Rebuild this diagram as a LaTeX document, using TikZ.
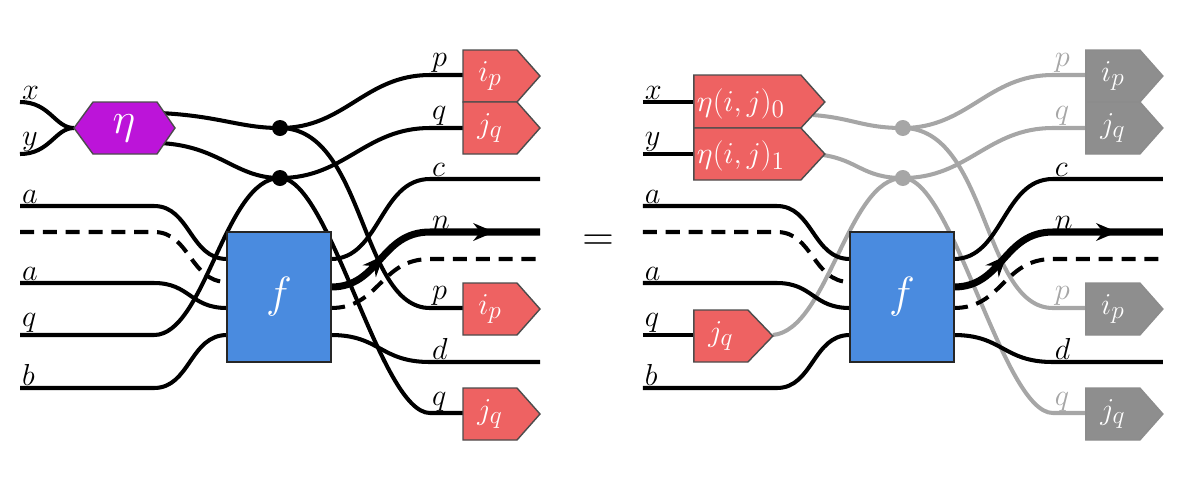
\documentclass[tikz,border=0pt]{standalone}
\usetikzlibrary{decorations.markings,arrows.meta}
\definecolor{redb}{HTML}{EE6262}
\definecolor{purp}{HTML}{BC14D9}
\definecolor{blueb}{HTML}{4A8BDF}
\definecolor{grayw}{HTML}{A6A6A6}
\definecolor{grayb}{HTML}{8E8E8E}
\tikzset{
 w/.style={line width=2.3pt,line cap=butt},
 dsh/.style={dash pattern=on 8pt off 5pt},
 lab/.style={anchor=south west,inner sep=1pt,font=\fontsize{17}{20}\selectfont},
 boxtext/.style={text=white,font=\fontsize{19}{22}\selectfont},
 redbox/.style={fill=redb,draw=black!70,line width=0.8pt},
 graybox/.style={fill=grayb,draw=black!45,line width=0.8pt},
 fbox/.style={fill=blueb,draw=black!85,line width=1.2pt,minimum width=2.08cm,minimum height=2.6cm,text=white,font=\fontsize{30}{34}\selectfont},
 dot/.style={circle,inner sep=0pt,minimum size=0.32cm},
 nwire/.style={line width=4pt,postaction={decorate},decoration={markings,
   mark=at position 0.28 with {\arrow{Stealth[length=12pt,width=10pt]}},
   mark=at position 0.8 with {\arrow{Stealth[length=12pt,width=10pt]}}}}
}
% #1 xl, #2 shoulder, #3 tip, #4 ytop, #5 ybot, #6 style, #7 text
\newcommand\tagbox[7]{%
 \path[#6] (#1,#4) -- (#2,#4) -- (#3,{(#4+#5)/2}) -- (#2,#5) -- (#1,#5) -- cycle;
 \node[boxtext] at ({(#1+#2)/2},{(#4+#5)/2}) {#7};}
\newcommand\shared{%
 \draw[w] (20,206) -- (154,206) .. controls (190,206) and (190,259) .. (227,259);
 \draw[w,dsh] (20,232) -- (154,232) .. controls (190,232) and (190,282) .. (227,282);
 \draw[w] (20,283) -- (154,283) .. controls (190,283) and (190,308) .. (227,308);
 \draw[w] (20,388) -- (154,388) .. controls (190,388) and (190,335) .. (227,335);
 \draw[w] (331,259) .. controls (380,259) and (380,179) .. (430,179) -- (540,179);
 \draw[w,dsh] (331,308) .. controls (380,308) and (380,259) .. (430,259) -- (540,259);
 \draw[w] (331,335) .. controls (380,335) and (380,362) .. (430,362) -- (540,362);
 \draw[nwire] (331,287) .. controls (380,287) and (380,232) .. (430,232) -- (540,232);
 \node[fbox] (f) at (279,297) {$f$};
 \node[lab] at (20,206) {$a$};
 \node[lab] at (20,283) {$a$};
 \node[lab] at (20,335) {$q$};
 \node[lab] at (20,388) {$b$};
 \node[lab] at (20,102) {$x$};
 \node[lab] at (20,154) {$y$};
 \node[lab] at (430,179) {$c$};
 \node[lab] at (430,232) {$n$};
 \node[lab] at (430,362) {$d$};
}
% #1 wire colour, #2 box style, #3 label colour
\newcommand\outs[3]{%
 \draw[w,#1] (280,128) .. controls (345,128) and (365,75) .. (430,75) -- (463,75);
 \draw[w,#1] (280,178) .. controls (345,178) and (365,128) .. (430,128) -- (463,128);
 \draw[w,#1] (280,128) .. controls (365,128) and (360,308) .. (430,308) -- (463,308);
 \draw[w,#1] (280,178) .. controls (330,178) and (380,413) .. (430,413) -- (463,413);
 \node[dot,fill=#1] (d1) at (280,128) {};
 \node[dot,fill=#1] (d2) at (280,178) {};
 \tagbox{463}{517}{540}{50}{102}{#2}{$i_p$}
 \tagbox{463}{517}{540}{102}{154}{#2}{$j_q$}
 \tagbox{463}{517}{540}{283}{335}{#2}{$i_p$}
 \tagbox{463}{517}{540}{388}{440}{#2}{$j_q$}
 \node[lab,text=#3] at (430,75) {$p$};
 \node[lab,text=#3] at (430,128) {$q$};
 \node[lab,text=#3] at (430,308) {$p$};
 \node[lab,text=#3] at (430,413) {$q$};
}
\begin{document}
\begin{tikzpicture}[x=0.02cm,y=-0.02cm]
\useasboundingbox (0,0) rectangle (1200,488);
% left panel
\begin{scope}
 \outs{black}{redbox}{black}
 \draw[w] (20,102) .. controls (50,102) and (55,128) .. (74,128);
 \draw[w] (20,154) .. controls (50,154) and (55,128) .. (74,128);
 \draw[w] (160,113) .. controls (220,116) and (240,128) .. (280,128);
 \draw[w] (160,143) .. controls (220,146) and (235,178) .. (280,178);
 \draw[w] (20,335) -- (154,335) .. controls (205,335) and (225,178) .. (280,178);
 \path[fill=purp,draw=black!70,line width=0.8pt] (74,128) -- (93,102) -- (157,102) -- (175,128) -- (157,154) -- (93,154) -- cycle;
 \node[text=white,font=\fontsize{24}{28}\selectfont] (eta) at (124,128) {$\eta$};
 \shared
\end{scope}
\node[font=\fontsize{40}{44}\selectfont] (eq) at (598,243) {$=$};
% right panel
\begin{scope}[xshift=12.46cm]
 \outs{grayw}{graybox}{grayw}
 \draw[w,grayw] (190,115) .. controls (230,118) and (240,128) .. (280,128);
 \draw[w,grayw] (200,155) .. controls (235,160) and (240,178) .. (280,178);
 \draw[w,grayw] (150,335) .. controls (205,330) and (225,178) .. (280,178);
 \draw[w] (20,102) -- (71,102);
 \draw[w] (20,154) -- (71,154);
 \draw[w] (20,335) -- (71,335);
 \path[redbox] (71,75) -- (178,75) -- (202,102) -- (178,128) -- (71,128) -- cycle;
 \path[redbox] (71,128) -- (178,128) -- (202,154) -- (178,180) -- (71,180) -- cycle;
 \node[boxtext,anchor=west,inner sep=1pt] at (72,104) {$\eta(i,j)_0$};
 \node[boxtext,anchor=west,inner sep=1pt] at (72,156) {$\eta(i,j)_1$};
 \tagbox{71}{125}{150}{310}{362}{redbox}{$j_q$}
 \shared
\end{scope}
\end{tikzpicture}
\end{document}
